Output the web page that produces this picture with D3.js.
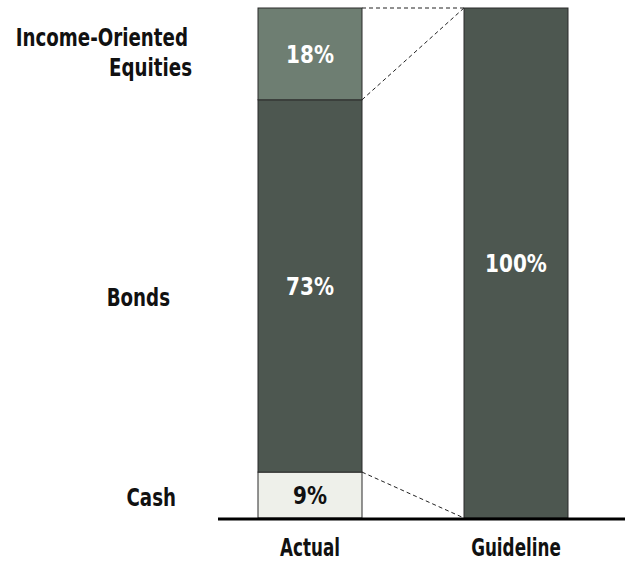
<!DOCTYPE html>
<html>
<head>
<meta charset="utf-8">
<script src="https://cdn.jsdelivr.net/npm/d3@7"></script>
<style>
  html, body { margin: 0; padding: 0; background: #fff; }
  svg { display: block; }
  text { font-family: "DejaVu Sans", "Noto Sans", sans-serif; font-weight: bold; }
</style>
</head>
<body>
<svg id="chart" width="625" height="563"></svg>
<script>
// Allocation data
const columns = ["Actual", "Guideline"];
const segments = ["Cash", "Bonds", "Income-Oriented Equities"];
const actualValues = [9, 73, 18];
const guidelineValues = [0, 100, 0];
const segmentColors = ["#eef0ea", "#4d5750", "#6e7e72"];
const labelColors = ["#111", "#fff", "#fff"];

const svg = d3.select("#chart");
const W = 625, H = 563;
const plotTop = 8, plotBottom = 518;

const barW = 104;
const xs = d3.scalePoint().domain(columns).range([310, 516]);
const y = d3.scaleLinear().domain([0, 100]).range([plotBottom, plotTop]);

const series = { Actual: actualValues, Guideline: guidelineValues };

// horizontally condensed bold text
function label(parent, x, yy, str, size, sx, anchor, fill) {
  const g = parent.append("g").attr("transform", `translate(${x},${yy}) scale(${sx},1)`);
  g.append("text")
    .attr("x", 0).attr("y", 0)
    .attr("text-anchor", anchor)
    .attr("font-size", size)
    .attr("fill", fill)
    .text(str);
  return g;
}

// stack each column bottom-up
function stackCol(vals) {
  let acc = 0;
  return vals.map((v, i) => { const s = { i, v, y0: acc, y1: acc + v }; acc += v; return s; });
}

const stacks = {};
columns.forEach(c => stacks[c] = stackCol(series[c]));

// connector dashed lines between Actual and Guideline
const aRight = xs("Actual") + barW / 2, gLeft = xs("Guideline") - barW / 2;
const cashTop = stacks.Actual[0].y1;
const bondTop = stacks.Actual[1].y1;
const connectors = [
  [[aRight, y(100)], [gLeft, y(100)]],
  [[aRight, y(bondTop)], [gLeft, y(100)]],
  [[aRight, y(cashTop)], [gLeft, y(0)]]
];
svg.selectAll("line.conn").data(connectors).join("line")
  .attr("class", "conn")
  .attr("x1", d => d[0][0]).attr("y1", d => d[0][1])
  .attr("x2", d => d[1][0]).attr("y2", d => d[1][1])
  .attr("stroke", "#222").attr("stroke-width", 1)
  .attr("stroke-dasharray", "4,3");

// bars
columns.forEach(c => {
  const g = svg.append("g");
  const segs = stacks[c].filter(s => s.v > 0);
  g.selectAll("rect").data(segs).join("rect")
    .attr("x", xs(c) - barW / 2)
    .attr("width", barW)
    .attr("y", d => y(d.y1))
    .attr("height", d => y(d.y0) - y(d.y1))
    .attr("fill", d => segmentColors[d.i])
    .attr("stroke", "#2a2a2a").attr("stroke-width", 1);
  segs.forEach(d => {
    label(g, xs(c), (y(d.y0) + y(d.y1)) / 2 + 9, d.v + "%", 25, 0.8, "middle", labelColors[d.i]);
  });
});

// segment names on the left
const nameLines = [["Cash"], ["Bonds"], ["Income-Oriented", "Equities"]];
const nameRight = [[176], [170], [188, 192]];
const nameBaseOffset = [[11], [20], [-8, 22]];
stacks.Actual.forEach(s => {
  const cy = (y(s.y0) + y(s.y1)) / 2;
  nameLines[s.i].forEach((ln, k) => {
    label(svg, nameRight[s.i][k], cy + nameBaseOffset[s.i][k], ln, 25, 0.73, "end", "#111");
  });
});

// baseline
svg.append("line")
  .attr("x1", 218).attr("x2", W)
  .attr("y1", plotBottom + 1).attr("y2", plotBottom + 1)
  .attr("stroke", "#000").attr("stroke-width", 3);

// column labels
columns.forEach(c => label(svg, xs(c), 556, c, 24, 0.7, "middle", "#111"));
</script>
</body>
</html>
